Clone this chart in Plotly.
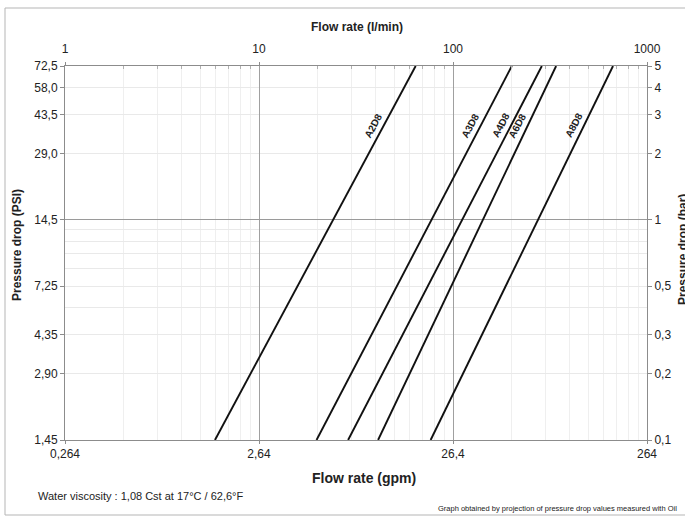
import math
import plotly.graph_objects as go

# ---- data ----
series_names = ["A2D8", "A3D8", "A4D8", "A6D8", "A8D8"]
pressure_bar = [0.1, 5.0]                      # end points of each line (bar)
flow_lpm_A2D8 = [5.93, 64.2]
flow_lpm_A3D8 = [19.8, 201.0]
flow_lpm_A4D8 = [28.8, 287.0]
flow_lpm_A6D8 = [41.1, 340.0]
flow_lpm_A8D8 = [76.7, 668.0]
flows = [flow_lpm_A2D8, flow_lpm_A3D8, flow_lpm_A4D8, flow_lpm_A6D8, flow_lpm_A8D8]

lpm_ticks = [1, 10, 100, 1000]
gpm_ticks = [0.264, 2.64, 26.4, 264]
gpm_ticktext = ["0,264", "2,64", "26,4", "264"]
bar_ticks = [0.1, 0.2, 0.3, 0.5, 1, 2, 3, 4, 5]
bar_ticktext = ["0,1", "0,2", "0,3", "0,5", "1", "2", "3", "4", "5"]
psi_ticks = [1.45, 2.90, 4.35, 7.25, 14.5, 29.0, 43.5, 58.0, 72.5]
psi_ticktext = ["1,45", "2,90", "4,35", "7,25", "14,5", "29,0", "43,5", "58,0", "72,5"]
label_pressure = 2.66  # bar, where the series labels sit

FONT = "Liberation Sans, Arial, sans-serif"
TXT = "#222222"

fig = go.Figure()

# invisible trace anchoring bottom (gpm) / left (PSI) axes
fig.add_trace(go.Scatter(x=[gpm_ticks[0], gpm_ticks[-1]], y=[psi_ticks[0], psi_ticks[-1]],
                         mode="markers", marker=dict(opacity=0), hoverinfo="skip",
                         showlegend=False, xaxis="x", yaxis="y"))
# invisible trace for the extra grid axis
fig.add_trace(go.Scatter(x=[lpm_ticks[0], lpm_ticks[-1]], y=[pressure_bar[0], pressure_bar[-1]],
                         mode="markers", marker=dict(opacity=0), hoverinfo="skip",
                         showlegend=False, xaxis="x2", yaxis="y3"))

for name, q in zip(series_names, flows):
    fig.add_trace(go.Scatter(x=q, y=pressure_bar, mode="lines", name=name,
                             line=dict(color="#111111", width=1.9),
                             showlegend=False, xaxis="x2", yaxis="y2"))

# labels along the lines
for name, q in zip(series_names, flows):
    lx0, lx1 = math.log10(q[0]), math.log10(q[1])
    ly0, ly1 = math.log10(pressure_bar[0]), math.log10(pressure_bar[1])
    ly = math.log10(label_pressure)
    lx = lx0 + (ly - ly0) / (ly1 - ly0) * (lx1 - lx0)
    fig.add_annotation(x=lx, y=ly, xref="x2", yref="y2", text="<b>%s</b>" % name,
                       showarrow=False, textangle=-62, xshift=-10, yshift=1,
                       font=dict(family=FONT, size=10, color=TXT))

minor_x = [m * d for d in (1, 10, 100) for m in range(2, 10)]
minor_y = [0.2, 0.3, 0.4, 0.5, 0.6, 0.7, 0.8, 0.9, 2, 3, 4]

tickfont = dict(family=FONT, size=12, color=TXT)
FRAME = "#8c8c8c"

fig.update_layout(
    width=685, height=517,
    margin=dict(l=65, r=38, t=66, b=77),
    paper_bgcolor="white", plot_bgcolor="white",
    xaxis=dict(type="log", range=[math.log10(gpm_ticks[0]), math.log10(gpm_ticks[-1])],
               tickmode="array", tickvals=gpm_ticks, ticktext=gpm_ticktext,
               side="bottom", showgrid=False, zeroline=False, showline=True,
               linecolor=FRAME, linewidth=1, ticks="outside", ticklen=3, tickcolor=FRAME,
               tickfont=tickfont, anchor="y"),
    xaxis2=dict(type="log", range=[0, 3], overlaying="x", side="top", anchor="y2",
                tickmode="array", tickvals=lpm_ticks, ticktext=[str(v) for v in lpm_ticks],
                showgrid=True, gridcolor="#a0a0a0", gridwidth=1, zeroline=False,
                showline=True, linecolor=FRAME, linewidth=1, ticks="outside", ticklen=3,
                tickcolor=FRAME, tickfont=tickfont, ticklabelstandoff=4,
                minor=dict(tickmode="array", tickvals=minor_x, showgrid=True,
                           gridcolor="#efefef", gridwidth=1, ticks="inside", ticklen=3,
                           tickcolor="#b0b0b0")),
    yaxis=dict(type="log", range=[math.log10(psi_ticks[0]), math.log10(psi_ticks[-1])],
               tickmode="array", tickvals=psi_ticks, ticktext=psi_ticktext,
               side="left", showgrid=False, zeroline=False, showline=True,
               linecolor=FRAME, linewidth=1, ticks="outside", ticklen=4, tickcolor=FRAME,
               tickfont=tickfont, anchor="x"),
    yaxis2=dict(type="log", range=[-1, math.log10(5)], overlaying="y", side="right",
                anchor="x2", tickmode="array", tickvals=bar_ticks, ticktext=bar_ticktext,
                showgrid=False, zeroline=False, showline=True, linecolor=FRAME, linewidth=1,
                ticks="outside", ticklen=4, tickcolor=FRAME, tickfont=tickfont,
                minor=dict(tickmode="array", tickvals=minor_y, showgrid=True,
                           gridcolor="#e9e9e9", gridwidth=1)),
    yaxis3=dict(type="log", range=[-1, math.log10(5)], overlaying="y", side="right",
                anchor="x2", tickmode="array", tickvals=[1], showticklabels=False,
                showgrid=True, gridcolor="#9a9a9a", gridwidth=1, zeroline=False,
                showline=False, ticks=""),
    showlegend=False,
)

def ann(text, x, y, size, bold=False, angle=0, xanchor="center", yanchor="middle"):
    fig.add_annotation(text=("<b>%s</b>" % text) if bold else text, x=x, y=y,
                       xref="paper", yref="paper", showarrow=False, textangle=angle,
                       xanchor=xanchor, yanchor=yanchor,
                       font=dict(family=FONT, size=size, color=TXT))

PW, PH = 582.0, 374.0
def px(xp): return (xp - 65) / PW
def py(yp): return (440 - yp) / PH

ann("Flow rate (l/min)", px(357), py(27), 12, bold=True)
ann("Flow rate (gpm)", px(364), py(478), 14, bold=True)
ann("Pressure drop (PSI)", px(17), py(245), 12, bold=True, angle=-90)
ann("Pressure drop (bar)", px(683), py(250), 12, bold=True, angle=-90)
ann("Water viscosity : 1,08 Cst at 17°C / 62,6°F", px(36), py(496), 11, xanchor="left")
ann("Graph obtained by projection of pressure drop values measured with Oil",
    px(679), py(508), 7.5, xanchor="right")

# outer frame around the figure
fig.add_shape(type="rect", xref="paper", yref="paper",
              x0=px(5), x1=px(692), y0=py(515), y1=py(8),
              line=dict(color="#b5b5b5", width=1), layer="below")

fig.write_html("out.html", config={"displayModeBar": False})

# remove the browser's default page margin so the figure sits at (0, 0)
with open("out.html", "r", encoding="utf-8") as f:
    html = f.read()
html = html.replace("<head>", "<head><style>html,body{margin:0;padding:0;overflow:hidden;}</style>", 1)
with open("out.html", "w", encoding="utf-8") as f:
    f.write(html)
